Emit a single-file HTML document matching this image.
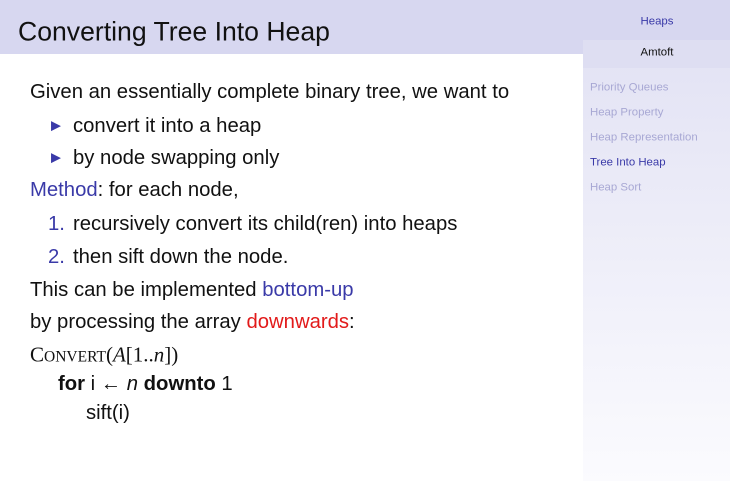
<!DOCTYPE html>
<html><head><style>
body{margin:0;width:730px;height:481px;overflow:hidden;background:#fff;font-family:"Liberation Sans",sans-serif;position:relative}
.t{position:absolute;white-space:nowrap;line-height:1;transform:translateY(-50%)}
.b{font-size:20.3px;color:#111}
.blue{color:#3a3aa8}.red{color:#e21a1a}
.s{font-size:11.4px;color:#a8a8d4;left:590px}
</style></head><body>
<div style="position:absolute;left:0;top:0;width:583px;height:54px;background:#d7d7f0"></div>
<div style="position:absolute;left:583px;top:0;width:147px;height:481px;background:linear-gradient(#e0e0f3,#fbfbfe)"></div>
<div style="position:absolute;left:583px;top:0;width:147px;height:40px;background:#d7d7f0"></div>
<div style="position:absolute;left:583px;top:40px;width:147px;height:28px;background:#dedef2"></div>
<div class="t" style="left:18px;top:32px;font-size:26.6px;color:#111">Converting Tree Into Heap</div>
<div class="t" style="left:657px;top:22px;font-size:11.4px;color:#3a3aa8;transform:translate(-50%,-50%)">Heaps</div>
<div class="t" style="left:657px;top:53px;font-size:11.4px;color:#111;transform:translate(-50%,-50%)">Amtoft</div>
<div class="t s" style="top:88px">Priority Queues</div>
<div class="t s" style="top:113px">Heap Property</div>
<div class="t s" style="top:138px">Heap Representation</div>
<div class="t s" style="top:163px;color:#3a3aa8">Tree Into Heap</div>
<div class="t s" style="top:188px">Heap Sort</div>

<div class="t b" style="left:30px;top:92px">Given an essentially complete binary tree, we want to</div>
<div class="t" style="left:51px;top:125px;color:#3a3aa8;font-size:13px">&#9654;</div>
<div class="t b" style="left:73px;top:126px">convert it into a heap</div>
<div class="t" style="left:51px;top:157px;color:#3a3aa8;font-size:13px">&#9654;</div>
<div class="t b" style="left:73px;top:158px">by node swapping only</div>
<div class="t b" style="left:30px;top:190px"><span class="blue">Method</span>: for each node,</div>
<div class="t b blue" style="left:48px;top:224px">1.</div>
<div class="t b" style="left:73px;top:224px">recursively convert its child(ren) into heaps</div>
<div class="t b blue" style="left:48px;top:257px">2.</div>
<div class="t b" style="left:73px;top:257px">then sift down the node.</div>
<div class="t b" style="left:30px;top:290px">This can be implemented <span class="blue">bottom-up</span></div>
<div class="t b" style="left:30px;top:322px">by processing the array <span class="red">downwards</span>:</div>
<div class="t b" style="left:30px;top:355px;font-family:'Liberation Serif',serif;font-size:21px">C<span style="font-size:15.5px">ONVERT</span>(<i>A</i>[1..<i>n</i>])</div>
<div class="t b" style="left:58px;top:384px"><b>for</b> i &larr; <i>n</i> <b>downto</b> 1</div>
<div class="t b" style="left:86px;top:413px">sift(i)</div>
</body></html>
